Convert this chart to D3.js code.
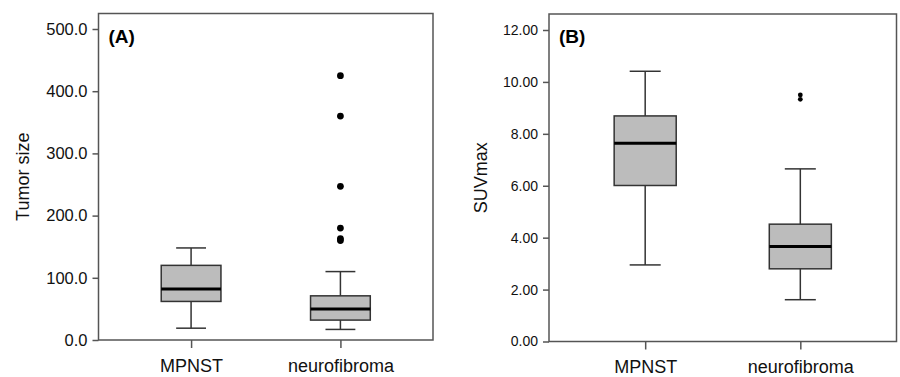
<!DOCTYPE html>
<html>
<head>
<meta charset="utf-8">
<script src="https://cdn.jsdelivr.net/npm/d3@7"></script>
<style>
  body { margin: 0; background: #fff; }
  svg { display: block; font-family: Arial, "Liberation Sans", sans-serif; }
</style>
</head>
<body>
<div id="chart"></div>
<script>
// groups on the x axis
const categories = ["MPNST", "neurofibroma"];

// (A) tumor size: box statistics per group
const sizeLow    = [19, 17];
const sizeQ1     = [62, 32];
const sizeMedian = [82, 50];
const sizeQ3     = [120, 71];
const sizeHigh   = [148, 110];
const sizeOutliers = [[], [425, 360, 247, 180, 163, 160]];
const sizeTicks  = [0, 100, 200, 300, 400, 500];

// (B) SUVmax: box statistics per group
const suvLow    = [2.95, 1.61];
const suvQ1     = [6.01, 2.80];
const suvMedian = [7.64, 3.66];
const suvQ3     = [8.69, 4.52];
const suvHigh   = [10.41, 6.65];
const suvOutliers = [[], [9.50, 9.33]];
const suvTicks  = [0, 2, 4, 6, 8, 10, 12];

const width = 900, height = 377;

let svg = d3.select("#chart").append("svg")
    .attr("width", width)
    .attr("height", height);

function drawPanel(opt) {
  let g = svg.append("g");

  let x = d3.scalePoint()
      .domain(categories)
      .range([opt.left, opt.right])
      .padding(0.62);
  let step = x.step();

  let y = d3.scaleLinear()
      .domain([0, d3.max(opt.ticks)])
      .range([opt.bottom, opt.yTop]);

  // frame
  g.append("rect")
      .attr("x", opt.left)
      .attr("y", opt.frameTop)
      .attr("width", opt.right - opt.left)
      .attr("height", opt.bottom - opt.frameTop)
      .attr("fill", "none")
      .attr("stroke", "#555")
      .attr("stroke-width", 1.5);

  /* boxes */
  let boxes = categories.map((c, i) => ({
    cat: c,
    low: opt.low[i], q1: opt.q1[i], med: opt.median[i],
    q3: opt.q3[i], high: opt.high[i], out: opt.outliers[i]
  }));

  let bw = step * 0.4, cw = step * 0.2;

  let bg = g.selectAll(".box").data(boxes).enter()
      .append("g").attr("class", "box");

  bg.append("line")
      .attr("x1", d => x(d.cat)).attr("x2", d => x(d.cat))
      .attr("y1", d => y(d.low)).attr("y2", d => y(d.high))
      .attr("stroke", "#333").attr("stroke-width", 1.5);

  bg.selectAll(".cap").data(d => [d, d]).enter()
      .append("line")
      .attr("x1", d => x(d.cat) - cw / 2)
      .attr("x2", d => x(d.cat) + cw / 2)
      .attr("y1", (d, j) => y(j ? d.high : d.low))
      .attr("y2", (d, j) => y(j ? d.high : d.low))
      .attr("stroke", "#333").attr("stroke-width", 1.5);

  bg.append("rect")
      .attr("x", d => x(d.cat) - bw / 2)
      .attr("width", bw)
      .attr("y", d => y(d.q3))
      .attr("height", d => y(d.q1) - y(d.q3))
      .attr("fill", "#bcbcbc")
      .attr("stroke", "#333").attr("stroke-width", 1.5);

  bg.append("line")
      .attr("x1", d => x(d.cat) - bw / 2)
      .attr("x2", d => x(d.cat) + bw / 2)
      .attr("y1", d => y(d.med)).attr("y2", d => y(d.med))
      .attr("stroke", "#000").attr("stroke-width", 3);

  bg.selectAll(".out").data(d => d.out.map(v => ({cat: d.cat, v: v}))).enter()
      .append("circle")
      .attr("cx", d => x(d.cat))
      .attr("cy", d => y(d.v))
      .attr("r", opt.dotR)
      .attr("fill", "#000");

  /* axes */
  let yAxis = d3.axisLeft(y)
      .tickValues(opt.ticks)
      .tickFormat(d3.format(opt.fmt))
      .tickSize(6).tickSizeOuter(0).tickPadding(5);
  let ya = g.append("g")
      .attr("transform", `translate(${opt.left}, 0)`)
      .call(yAxis);
  ya.select(".domain").remove();
  ya.selectAll("line").attr("stroke", "#555").attr("stroke-width", 1.5);
  ya.selectAll("text").attr("font-size", opt.tickFont).attr("fill", "#111")
      .attr("font-family", null);

  let xAxis = d3.axisBottom(x).tickSize(8).tickSizeOuter(0).tickPadding(11);
  let xa = g.append("g")
      .attr("transform", `translate(0, ${opt.bottom})`)
      .call(xAxis);
  xa.select(".domain").remove();
  xa.selectAll("line").attr("stroke", "#555").attr("stroke-width", 1.5);
  xa.selectAll("text").attr("font-size", 18).attr("fill", "#111")
      .attr("font-family", null);

  // y title
  g.append("text")
      .attr("transform", `translate(${opt.titleX}, ${(opt.frameTop + opt.bottom) / 2}) rotate(-90)`)
      .attr("text-anchor", "middle")
      .attr("font-size", 18)
      .attr("fill", "#111")
      .text(opt.title);

  // panel letter
  g.append("text")
      .attr("x", opt.left + 10)
      .attr("y", opt.frameTop + 29)
      .attr("font-size", 19)
      .attr("font-weight", "bold")
      .attr("fill", "#000")
      .text(opt.letter);
}

drawPanel({
  left: 98.5, right: 433, frameTop: 13.5, yTop: 29, bottom: 340,
  low: sizeLow, q1: sizeQ1, median: sizeMedian, q3: sizeQ3, high: sizeHigh,
  outliers: sizeOutliers, ticks: sizeTicks, fmt: ".1f", tickFont: 16.5,
  dotR: 3.4, title: "Tumor size", titleX: 29, letter: "(A)"
});

drawPanel({
  left: 549, right: 896.5, frameTop: 14, yTop: 30, bottom: 341.5,
  low: suvLow, q1: suvQ1, median: suvMedian, q3: suvQ3, high: suvHigh,
  outliers: suvOutliers, ticks: suvTicks, fmt: ".2f", tickFont: 14,
  dotR: 2.4, title: "SUVmax", titleX: 487, letter: "(B)"
});
</script>
</body>
</html>
